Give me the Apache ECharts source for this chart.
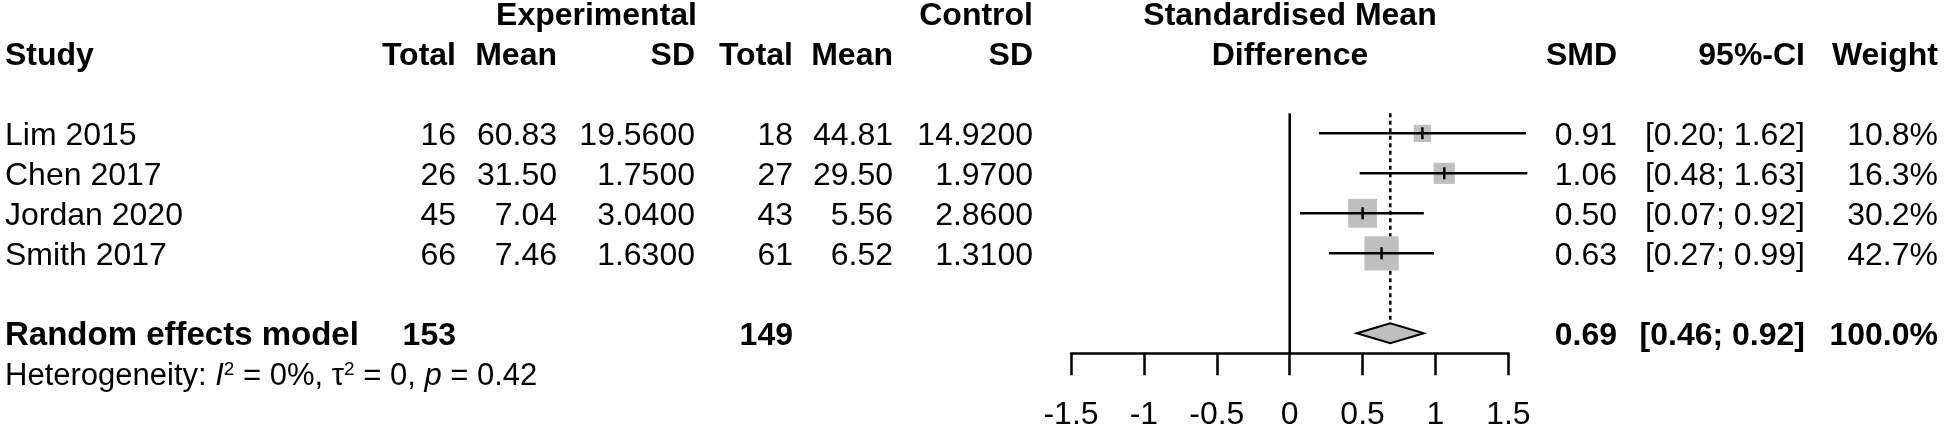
<!DOCTYPE html>
<html>
<head>
<meta charset="utf-8">
<script src="https://cdn.jsdelivr.net/npm/echarts@6/dist/echarts.min.js"></script>
<style>
  html, body { margin: 0; padding: 0; background: #fff; }
  #main { width: 1946px; height: 434px; }
</style>
</head>
<body>
<div id="main"></div>
<script>
// study data
const studies = ['Lim 2015', 'Chen 2017', 'Jordan 2020', 'Smith 2017'];
const expTotal = [16, 26, 45, 66];
const expMean = [60.83, 31.50, 7.04, 7.46];
const expSD = [19.56, 1.75, 3.04, 1.63];
const ctlTotal = [18, 27, 43, 61];
const ctlMean = [44.81, 29.50, 5.56, 6.52];
const ctlSD = [14.92, 1.97, 2.86, 1.31];
const smd = [0.91, 1.06, 0.50, 0.63];
const ciLow = [0.20, 0.48, 0.07, 0.27];
const ciHigh = [1.62, 1.63, 0.92, 0.99];
const weight = [10.8, 16.3, 30.2, 42.7];

// random effects model: smd, lower, upper
const pooled = [0.69, 0.46, 0.92];
const pooledTotals = [153, 149];
const heterogeneity = ['0%', '0', '0.42']; // I^2, tau^2, p

const xTicks = [-1.5, -1, -0.5, 0, 0.5, 1, 1.5];

const font = "'Liberation Sans', Arial, sans-serif";
const FS = 32;
const SUMMARY_ROW = 5;

// x edges of the text columns (pixels)
const col = { study: 5, eT: 456, eM: 557, eS: 695, cT: 793, cM: 893, cS: 1033,
              mid: 1290, smd: 1617, ci: 1805, w: 1938 };

const cells = [];
function cell(x, k, t, align, bold, extra) {
  cells.push({ x: x, k: k, t: t, align: align, bold: bold, extra: extra });
}

// headers
cell(col.eS + 2, -3, 'Experimental', 'right', true);
cell(col.cS, -3, 'Control', 'right', true);
cell(col.mid, -3, 'Standardised Mean', 'center', true);
cell(col.study, -2, 'Study', 'left', true);
cell(col.eT, -2, 'Total', 'right', true);
cell(col.eM, -2, 'Mean', 'right', true);
cell(col.eS, -2, 'SD', 'right', true);
cell(col.cT, -2, 'Total', 'right', true);
cell(col.cM, -2, 'Mean', 'right', true);
cell(col.cS, -2, 'SD', 'right', true);
cell(col.mid, -2, 'Difference', 'center', true);
cell(col.smd, -2, 'SMD', 'right', true);
cell(col.ci, -2, '95%-CI', 'right', true);
cell(col.w, -2, 'Weight', 'right', true);

// study rows
studies.forEach(function (s, i) {
  cell(col.study, i, s, 'left', false);
  cell(col.eT, i, String(expTotal[i]), 'right', false);
  cell(col.eM, i, expMean[i].toFixed(2), 'right', false);
  cell(col.eS, i, expSD[i].toFixed(4), 'right', false);
  cell(col.cT, i, String(ctlTotal[i]), 'right', false);
  cell(col.cM, i, ctlMean[i].toFixed(2), 'right', false);
  cell(col.cS, i, ctlSD[i].toFixed(4), 'right', false);
  cell(col.smd, i, smd[i].toFixed(2), 'right', false);
  cell(col.ci, i, '[' + ciLow[i].toFixed(2) + '; ' + ciHigh[i].toFixed(2) + ']', 'right', false);
  cell(col.w, i, weight[i].toFixed(1) + '%', 'right', false);
});

// summary
cell(col.study, SUMMARY_ROW, 'Random effects model', 'left', true, { fontSize: 33 });
cell(col.eT, SUMMARY_ROW, String(pooledTotals[0]), 'right', true);
cell(col.cT, SUMMARY_ROW, String(pooledTotals[1]), 'right', true);
cell(col.smd, SUMMARY_ROW, pooled[0].toFixed(2), 'right', true);
cell(col.ci, SUMMARY_ROW, '[' + pooled[1].toFixed(2) + '; ' + pooled[2].toFixed(2) + ']', 'right', true);
cell(col.w, SUMMARY_ROW, '100.0%', 'right', true);
cell(col.study, SUMMARY_ROW + 1,
  'Heterogeneity: {it|I}{sup|2} = ' + heterogeneity[0] + ', τ{sup|2} = ' + heterogeneity[1] +
  ', {it|p} = ' + heterogeneity[2], 'left', false, {
    fontSize: 31,
    lineHeight: 32,
    rich: {
      it: { fontStyle: 'italic', fontSize: 31, fontFamily: font, fill: '#000', lineHeight: 32 },
      sup: { fontSize: 19, fontFamily: font, verticalAlign: 'top', lineHeight: 12, fill: '#000' }
    }
  });

const chart = echarts.init(document.getElementById('main'));

chart.setOption({
  animation: false,
  backgroundColor: '#fff',
  textStyle: { fontFamily: font },
  grid: [
    { left: 1071, right: 437.6, top: 0, bottom: 80.7 },
    { left: 0, right: 0, top: 0, bottom: 0 }
  ],
  xAxis: [
    {
      gridIndex: 0, type: 'value',
      min: xTicks[0], max: xTicks[xTicks.length - 1], interval: xTicks[1] - xTicks[0],
      axisLine: { onZero: false, lineStyle: { color: '#000', width: 2.5 } },
      axisTick: { length: 22, lineStyle: { color: '#000', width: 2.5 } },
      splitLine: { show: false },
      axisLabel: { color: '#000', fontSize: FS, fontFamily: font, margin: 46 }
    },
    { gridIndex: 1, type: 'value', min: 0, max: 1946, show: false }
  ],
  yAxis: [
    { gridIndex: 0, type: 'value', inverse: true, min: -10 / 3, max: 5.5, show: false },
    { gridIndex: 1, type: 'value', inverse: true, min: -10 / 3, max: 7.5175, show: false }
  ],
  series: [
    {
      // line of no effect
      type: 'custom', xAxisIndex: 0, yAxisIndex: 0, z: 1,
      data: [[0, -0.5, 5.5]],
      renderItem: function (params, api) {
        const a = api.coord([api.value(0), api.value(1)]);
        const b = api.coord([api.value(0), api.value(2)]);
        return { type: 'line', shape: { x1: a[0], y1: a[1], x2: b[0], y2: b[1] },
                 style: { stroke: '#000', lineWidth: 2.5 } };
      }
    },
    {
      // pooled estimate dotted line
      type: 'custom', xAxisIndex: 0, yAxisIndex: 0, z: 2,
      data: [[pooled[0], -0.5, SUMMARY_ROW]],
      renderItem: function (params, api) {
        const a = api.coord([api.value(0), api.value(1)]);
        const b = api.coord([api.value(0), api.value(2)]);
        return { type: 'line', shape: { x1: a[0], y1: a[1], x2: b[0], y2: b[1] - 10 },
                 style: { stroke: '#000', lineWidth: 2.5, lineDash: [4, 3.5] } };
      }
    },
    {
      // study squares and CIs
      type: 'custom', xAxisIndex: 0, yAxisIndex: 0, z: 3,
      data: studies.map(function (s, i) { return [smd[i], i, ciLow[i], ciHigh[i], weight[i]]; }),
      renderItem: function (params, api) {
        const c = api.coord([api.value(0), api.value(1)]);
        const lo = api.coord([api.value(2), api.value(1)]);
        const hi = api.coord([api.value(3), api.value(1)]);
        const side = 5.25 * Math.sqrt(api.value(4));
        return {
          type: 'group',
          children: [
            { type: 'rect', shape: { x: c[0] - side / 2, y: c[1] - side / 2, width: side, height: side },
              style: { fill: '#bfbfbf' } },
            { type: 'line', shape: { x1: lo[0], y1: lo[1], x2: hi[0], y2: hi[1] },
              style: { stroke: '#000', lineWidth: 2.5 } },
            { type: 'line', shape: { x1: c[0], y1: c[1] - 6, x2: c[0], y2: c[1] + 6 },
              style: { stroke: '#000', lineWidth: 2.5 } }
          ]
        };
      }
    },
    {
      // pooled diamond
      type: 'custom', xAxisIndex: 0, yAxisIndex: 0, z: 4,
      data: [[pooled[0], SUMMARY_ROW, pooled[1], pooled[2]]],
      renderItem: function (params, api) {
        const c = api.coord([api.value(0), api.value(1)]);
        const lo = api.coord([api.value(2), api.value(1)]);
        const hi = api.coord([api.value(3), api.value(1)]);
        return {
          type: 'polygon',
          shape: { points: [[lo[0], c[1]], [c[0], c[1] - 10], [hi[0], c[1]], [c[0], c[1] + 10]] },
          style: { fill: '#bfbfbf', stroke: '#000', lineWidth: 2 }
        };
      }
    },
    {
      // table text
      type: 'custom', xAxisIndex: 1, yAxisIndex: 1, z: 5,
      data: cells.map(function (c) { return [c.x, c.k]; }),
      renderItem: function (params, api) {
        const c = cells[params.dataIndex];
        const p = api.coord([api.value(0), api.value(1)]);
        const style = Object.assign({
          text: c.t, align: c.align, verticalAlign: 'middle',
          fontSize: FS, fontFamily: font, fontWeight: c.bold ? 'bold' : 'normal', fill: '#000'
        }, c.extra || {});
        return { type: 'text', x: p[0], y: p[1] + 3, style: style };
      }
    }
  ]
});
</script>
</body>
</html>
